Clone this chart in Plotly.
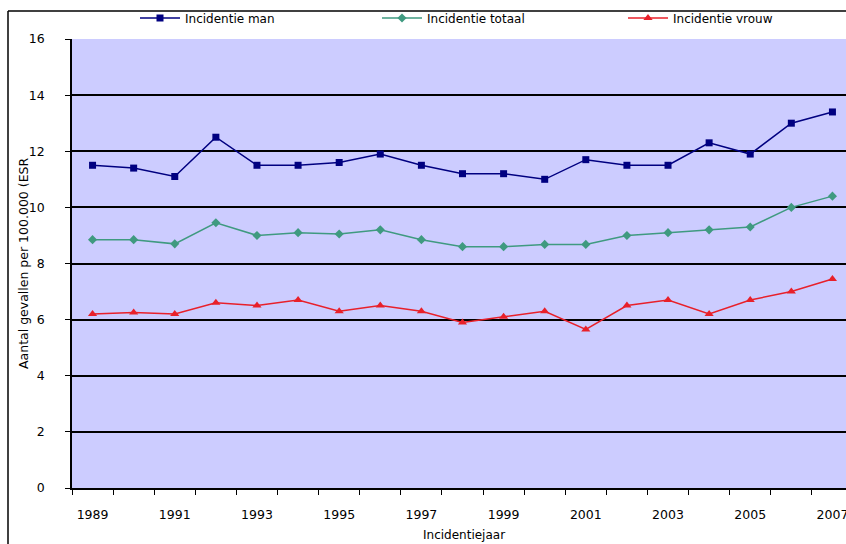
import plotly.graph_objects as go

years = list(range(1989, 2008))
incidentie_man = [11.5, 11.4, 11.1, 12.5, 11.5, 11.5, 11.6, 11.9, 11.5, 11.2,
                  11.2, 11.0, 11.7, 11.5, 11.5, 12.3, 11.9, 13.0, 13.4]
incidentie_totaal = [8.85, 8.85, 8.7, 9.45, 9.0, 9.1, 9.05, 9.2, 8.85, 8.6,
                     8.6, 8.68, 8.68, 9.0, 9.1, 9.2, 9.3, 10.0, 10.4]
incidentie_vrouw = [6.2, 6.25, 6.2, 6.6, 6.5, 6.7, 6.3, 6.5, 6.3, 5.9,
                    6.1, 6.3, 5.65, 6.5, 6.7, 6.2, 6.7, 7.0, 7.45]
tick_years = list(range(1989, 2008, 2))
y_ticks = list(range(0, 17, 2))

font = "DejaVu Sans, Arial, sans-serif"

W, H = 846, 544
L, T, R, B = 72, 39, 0, 544 - 488
pw, ph = W - L - R, H - T - B

def px(xpix):
    return (xpix - L) / pw

def py(ypix):
    return (H - B - ypix) / ph

fig = go.Figure()
fig.add_trace(go.Scatter(x=years, y=incidentie_man, name="Incidentie man",
                         mode="lines+markers", legend="legend",
                         line=dict(color="#000080", width=1.5),
                         marker=dict(symbol="square", size=7, color="#000080")))
fig.add_trace(go.Scatter(x=years, y=incidentie_totaal, name="Incidentie totaal",
                         mode="lines+markers", legend="legend2",
                         line=dict(color="#3f9a80", width=1.5),
                         marker=dict(symbol="diamond", size=7, color="#3f9a80")))
fig.add_trace(go.Scatter(x=years, y=incidentie_vrouw, name="Incidentie vrouw",
                         mode="lines+markers", legend="legend3",
                         line=dict(color="#e8202a", width=1.5),
                         marker=dict(symbol="triangle-up", size=8, color="#e8202a")))

def leg(xs):
    return dict(orientation="h", x=px(xs), y=py(18), xanchor="left", yanchor="middle",
                itemwidth=40, font=dict(size=12), bgcolor="rgba(0,0,0,0)")

fig.update_layout(
    width=W, height=H,
    margin=dict(l=L, r=R, t=T, b=B, pad=0, autoexpand=False),
    paper_bgcolor="white",
    plot_bgcolor="#ccccff",
    font=dict(family=font, size=12, color="black"),
    showlegend=True,
    legend=leg(135), legend2=leg(377), legend3=leg(623),
    xaxis=dict(range=[1988.5, 2007.33], tickmode="array", tickvals=tick_years,
               ticktext=[str(y) for y in tick_years], automargin=False,
               ticklabeloverflow="allow",
               showgrid=False, zeroline=False, showline=True, linecolor="black",
               linewidth=1.5, ticks="outside", ticklen=0, ticklabelstandoff=14,
               tickfont=dict(size=12.5),
               minor=dict(tickmode="array", tickvals=[y - 0.5 for y in years] + [2007.5],
                          ticks="outside", ticklen=5, tickcolor="black", showgrid=False)),
    yaxis=dict(range=[0, 16], tickmode="array", tickvals=y_ticks, automargin=False,
               showgrid=True, gridcolor="black", gridwidth=1.5,
               zeroline=False, showline=True, linecolor="black", linewidth=1.5,
               ticks="outside", ticklen=5, tickcolor="black", ticklabelstandoff=18,
               tickfont=dict(size=12.5)),
)

fig.add_annotation(text="Incidentiejaar", xref="paper", yref="paper",
                   x=px(464), y=py(535), xanchor="center", yanchor="middle",
                   showarrow=False, font=dict(size=12))
fig.add_annotation(text="Aantal gevallen per 100.000 (ESR", xref="paper", yref="paper",
                   x=px(23), y=py(264), xanchor="center", yanchor="middle",
                   textangle=-90, showarrow=False, font=dict(size=12.5))

# chart border (cropped frame)
fig.add_shape(type="line", xref="paper", yref="paper",
              x0=px(8), x1=px(8), y0=py(11), y1=py(560),
              line=dict(color="black", width=1.5))
fig.add_shape(type="line", xref="paper", yref="paper",
              x0=px(8), x1=px(860), y0=py(11), y1=py(11),
              line=dict(color="black", width=1.5))

fig.write_html("out.html",
               config={"displayModeBar": False},
               post_script="document.body.style.margin='0';"
                           "document.documentElement.style.overflow='hidden';"
                           "document.body.style.overflow='hidden';")
